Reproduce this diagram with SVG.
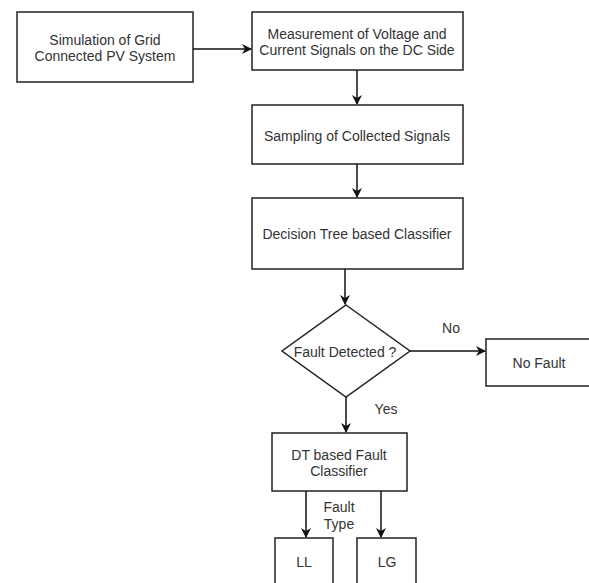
<svg xmlns="http://www.w3.org/2000/svg" width="589" height="583" viewBox="0 0 589 583">
<style>
.box{fill:#fff;stroke:#222;stroke-width:1.5}
.t{font-family:"Liberation Sans",Arial,sans-serif;font-size:14px;fill:#333;text-anchor:middle}
.c{stroke:#111;stroke-width:1.5;fill:none;marker-end:url(#ah)}
</style>
<defs>
<marker id="ah" viewBox="0 0 10 10" refX="9" refY="5" markerWidth="10" markerHeight="10" markerUnits="userSpaceOnUse" orient="auto">
<path d="M0,0 L10,5 L0,10 L3,5 Z" fill="#111"/>
</marker>
</defs>
<rect width="589" height="583" fill="#fff"/>
<g id="n1"><rect class="box" x="17" y="12" width="176" height="70"/>
<text class="t" x="105" y="44.5">Simulation of Grid</text><text class="t" x="105" y="60.5">Connected PV System</text></g>
<g id="n2"><rect class="box" x="252" y="12" width="211" height="58"/>
<text class="t" x="357" y="38.5">Measurement of Voltage and</text><text class="t" x="357" y="54.5">Current Signals on the DC Side</text></g>
<g id="n3"><rect class="box" x="252" y="105" width="211" height="59"/>
<text class="t" x="357" y="141">Sampling of Collected Signals</text></g>
<g id="n4"><rect class="box" x="252" y="198" width="211" height="71"/>
<text class="t" x="357" y="239">Decision Tree based Classifier</text></g>
<g id="n5"><path class="box" d="M346,305 L410,351 L346,397 L282,351 Z"/>
<text class="t" x="345" y="357">Fault Detected ?</text></g>
<g id="n6"><rect class="box" x="486" y="339" width="108" height="47"/>
<text class="t" x="539" y="368">No Fault</text></g>
<g id="n7"><rect class="box" x="272" y="433" width="135" height="58"/>
<text class="t" x="339" y="460">DT based Fault</text><text class="t" x="339" y="476">Classifier</text></g>
<g id="n8"><rect class="box" x="275" y="538" width="58" height="60"/>
<text class="t" x="304" y="567">LL</text></g>
<g id="n9"><rect class="box" x="357" y="538" width="59" height="60"/>
<text class="t" x="387" y="567">LG</text></g>
<g id="connectors">
<path class="c" d="M193,49 L251,49"/>
<path class="c" d="M357,70 L357,104"/>
<path class="c" d="M357,164 L357,197"/>
<path class="c" d="M345,269 L345,304"/>
<path class="c" d="M410,351 L485,351"/>
<path class="c" d="M346,397 L346,432"/>
<path class="c" d="M306,491 L306,537"/>
<path class="c" d="M381,491 L381,537"/>
<text class="t" x="451" y="333">No</text>
<text class="t" x="386" y="414">Yes</text>
<text class="t" x="339" y="512">Fault</text>
<text class="t" x="339" y="529">Type</text>
</g>
</svg>
